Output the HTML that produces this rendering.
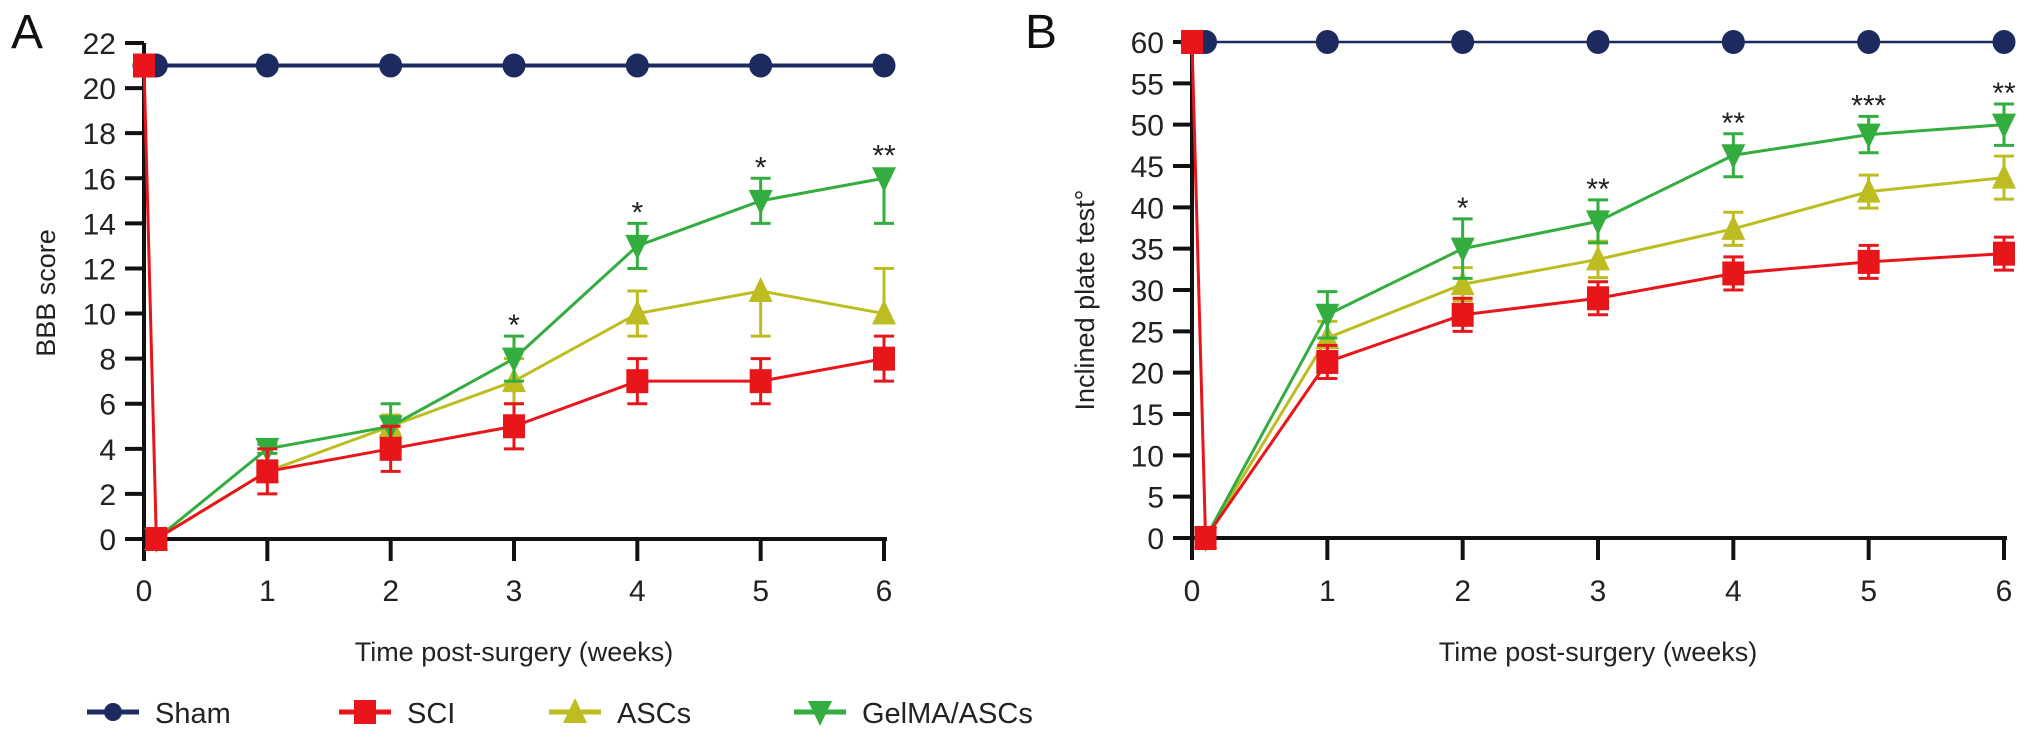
<!DOCTYPE html>
<html><head><meta charset="utf-8"><style>
html,body{margin:0;padding:0;background:#fff;}
svg{display:block;font-family:"Liberation Sans",Arial,sans-serif;}
</style></head><body>
<svg id="c" width="2032" height="737" viewBox="0 0 2032 737"></svg>
<script>
// ---- data ----
const weeks = [0, 0.1, 1, 2, 3, 4, 5, 6];
const xTicks = [0, 1, 2, 3, 4, 5, 6];
const seriesNames = ["Sham", "SCI", "ASCs", "GelMA/ASCs"];
// Panel A (BBB score)
const aSham = [21, 21, 21, 21, 21, 21, 21, 21];
const aSCI = [21, 0, 3, 4, 5, 7, 7, 8];
const aSCIUp = [0, 0, 1, 1, 1, 1, 1, 1];
const aSCILo = [0, 0, 1, 1, 1, 1, 1, 1];
const aASC = [null, 0, 3, 5, 7, 10, 11, 10];
const aASCUp = [0, 0, 0.3, 0.5, 1, 1, 0, 2];
const aASCLo = [0, 0, 0.3, 0.5, 1, 1, 2, 0];
const aGel = [null, 0, 4, 5, 8, 13, 15, 16];
const aGelUp = [0, 0, 0.2, 1, 1, 1, 1, 0];
const aGelLo = [0, 0, 0.2, 1, 1, 1, 1, 2];
const aTicks = [0, 2, 4, 6, 8, 10, 12, 14, 16, 18, 20, 22];
const aStarWeeks = [3, 4, 5, 6];
const aStars = ["*", "*", "*", "**"];
// Panel B (Inclined plate)
const bSham = [60, 60, 60, 60, 60, 60, 60, 60];
const bSCI = [60, 0, 21.3, 27, 29, 32, 33.4, 34.4];
const bSCIErr = [0, 0, 2, 2, 2, 2, 2, 2];
const bASC = [null, 0, 24.2, 30.7, 33.7, 37.4, 41.9, 43.6];
const bASCErr = [0, 0, 2, 2, 2.2, 2, 2, 2.6];
const bGel = [null, 0, 27, 35, 38.3, 46.3, 48.8, 50];
const bGelErr = [0, 0, 2.8, 3.6, 2.6, 2.6, 2.2, 2.5];
const bTicks = [0, 5, 10, 15, 20, 25, 30, 35, 40, 45, 50, 55, 60];
const bStarWeeks = [2, 3, 4, 5, 6];
const bStars = ["*", "**", "**", "***", "**"];

const NS = "http://www.w3.org/2000/svg";
const svg = document.getElementById("c");
const COL = {sham: "#1d2a60", sci: "#e8161b", asc: "#bdbd22", gel: "#33ad3f"};
function el(tag, attrs, parent) {
  const e = document.createElementNS(NS, tag);
  for (const k in attrs) e.setAttribute(k, attrs[k]);
  (parent || svg).appendChild(e);
  return e;
}
function marker(g, type, x, y, c) {
  let m;
  if (type === "circle") m = el("ellipse", {cx: x, cy: y, rx: 11.5, ry: 12, fill: c}, g);
  else if (type === "square") m = el("rect", {x: x - 11, y: y - 12, width: 22, height: 24, fill: c}, g);
  else if (type === "up") m = el("polygon", {points: `${x},${y - 14} ${x - 12},${y + 11} ${x + 12},${y + 11}`, fill: c}, g);
  else m = el("polygon", {points: `${x},${y + 14} ${x - 12},${y - 11} ${x + 12},${y - 11}`, fill: c}, g);
  return m;
}
function panel(P) {
  const sx = v => P.x0 + (v / 6) * (P.x6 - P.x0);
  const sy = v => P.y0 - (v / P.ymax) * (P.y0 - P.ytop);
  const g = el("g", {});
  
  
  const lbl = el("text", {x: P.labelX, y: P.labelY, "font-size": 48, fill: "#111"}, g);
  lbl.textContent = P.letter;
  
  
  const ax = el("g", {stroke: "#111", "stroke-width": 4}, g);
  
  
  el("line", {x1: P.x0, y1: P.y0 + 2, x2: P.x0, y2: P.ytop}, ax);
  el("line", {x1: P.x0 - 19, y1: P.y0, x2: P.x6 + 3, y2: P.y0}, ax);
  P.ticks.forEach(t => {
    el("line", {x1: P.x0 - 19, y1: sy(t), x2: P.x0, y2: sy(t)}, ax);
    const tx = el("text", {x: P.x0 - 28, y: sy(t) + 11, "font-size": 30, "text-anchor": "end", fill: "#222", stroke: "none"}, g);
    tx.textContent = t;
    
    
  });
  xTicks.forEach(t => {
    el("line", {x1: sx(t), y1: P.y0, x2: sx(t), y2: P.y0 + 22}, ax);
    const tx = el("text", {x: sx(t), y: 601, "font-size": 30, "text-anchor": "middle", fill: "#222"}, g);
    tx.textContent = t;
    
    
  });
  const xt = el("text", {x: (P.x0 + P.x6) / 2, y: 661, "font-size": 27, "text-anchor": "middle", fill: "#222"}, g);
  xt.textContent = "Time post-surgery (weeks)";
  
  
  const yt = el("text", {x: 0, y: 0, "font-size": 27, "text-anchor": "middle", fill: "#222", transform: `translate(${P.ytitleX},${P.ytitleY}) rotate(-90)`}, g);
  yt.textContent = P.ytitle;
  
  
  const S = [
    {v: P.sham, up: null, lo: null, c: COL.sham, m: "circle", w: P.shamW, n: "sham"},
    {v: P.asc, up: P.ascUp, lo: P.ascLo, c: COL.asc, m: "up", w: 3, n: "ascs"},
    {v: P.gel, up: P.gelUp, lo: P.gelLo, c: COL.gel, m: "down", w: 3, n: "gelma-ascs"},
    {v: P.sci, up: P.sciUp, lo: P.sciLo, c: COL.sci, m: "square", w: 3, n: "sci"}
  ];
  S.forEach(s => {
    const sg = el("g", {}, g);
    
    
    const pts = [];
    weeks.forEach((w, i) => { if (s.v[i] !== null) pts.push([sx(w), sy(s.v[i]), i]); });
    el("polyline", {points: pts.map(p => p[0] + "," + p[1]).join(" "), fill: "none", stroke: s.c, "stroke-width": s.w}, sg);
    if (s.up) pts.forEach(p => {
      const i = p[2], x = p[0];
      [[s.up[i], 1], [s.lo[i], -1]].forEach(([e, d]) => {
        if (!e) return;
        const ye = sy(s.v[i] + d * e);
        el("line", {x1: x, y1: p[1], x2: x, y2: ye, stroke: s.c, "stroke-width": 3}, sg);
        el("line", {x1: x - 10, y1: ye, x2: x + 10, y2: ye, stroke: s.c, "stroke-width": 3}, sg);
      });
    });
    pts.forEach(p => {
      const m = marker(sg, s.m, p[0], p[1], s.c);
      
      
    });
  });
  P.starWeeks.forEach((w, i) => {
    const gi = weeks.indexOf(w);
    const top = Math.min(sy(P.gel[gi] + P.gelUp[gi]), sy(P.gel[gi]) - 12);
    const st = el("text", {x: sx(w), y: top - 1, "font-size": 30, "text-anchor": "middle", fill: "#222"}, g);
    st.textContent = P.stars[i];
    
    
  });
}
panel({name: "panel-a-bbb", letter: "A", labelX: 11, labelY: 48, x0: 144, x6: 884, y0: 539, ytop: 43, ymax: 22,
  ticks: aTicks, sham: aSham, sci: aSCI, sciUp: aSCIUp, sciLo: aSCILo, asc: aASC, ascUp: aASCUp, ascLo: aASCLo,
  gel: aGel, gelUp: aGelUp, gelLo: aGelLo,
  starWeeks: aStarWeeks, stars: aStars, ytitle: "BBB score", ytitleX: 55, ytitleY: 293, shamW: 4});
panel({name: "panel-b-inclined", letter: "B", labelX: 1025, labelY: 48, x0: 1192, x6: 2004, y0: 538, ytop: 42, ymax: 60,
  ticks: bTicks, sham: bSham, sci: bSCI, sciUp: bSCIErr, sciLo: bSCIErr, asc: bASC, ascUp: bASCErr, ascLo: bASCErr,
  gel: bGel, gelUp: bGelErr, gelLo: bGelErr,
  starWeeks: bStarWeeks, stars: bStars, ytitle: "Inclined plate test\u00b0", ytitleX: 1094, ytitleY: 300, shamW: 2.5});
const leg = el("g", {});


const legX = [113, 365, 575, 820];
const legC = [COL.sham, COL.sci, COL.asc, COL.gel];
const legM = ["circle", "square", "up", "down"];
seriesNames.forEach((n, i) => {
  const e = el("g", {}, leg);
  
  
  el("line", {x1: legX[i] - 26, y1: 712, x2: legX[i] + 26, y2: 712, stroke: legC[i], "stroke-width": 5}, e);
  const m = marker(e, legM[i], legX[i], 712, legC[i]);
  if (legM[i] === "circle") { m.setAttribute("rx", 9); m.setAttribute("ry", 9); }
  const t = el("text", {x: legX[i] + 42, y: 723, "font-size": 29, fill: "#222"}, e);
  t.textContent = n;
});
</script>
</body></html>
